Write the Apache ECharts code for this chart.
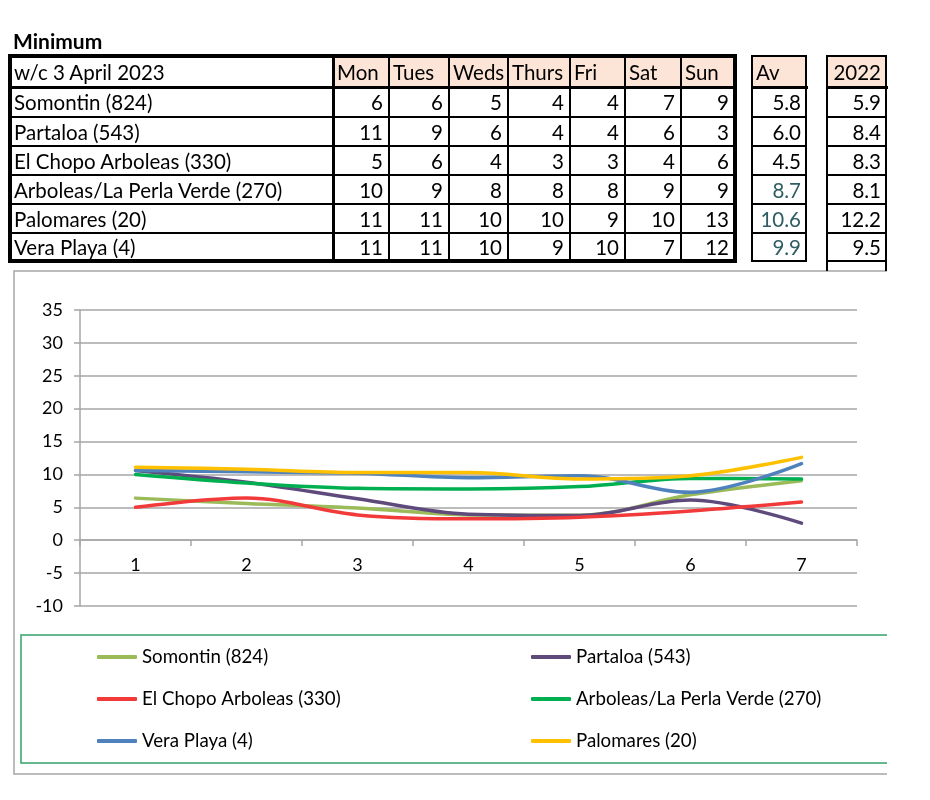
<!DOCTYPE html>
<html>
<head>
<meta charset="utf-8">
<script src="https://cdn.jsdelivr.net/npm/echarts@6/dist/echarts.min.js"></script>
<style>
  html, body { margin: 0; padding: 0; background: #fff; }
  #chart { position: absolute; left: 0; top: 0; width: 930px; height: 800px; }
  #table { position: absolute; left: 0; top: 0; width: 930px; height: 280px; z-index: 2; font-family: Lato, "Open Sans", sans-serif; }
  .ln { position: absolute; background: #000; }
  .cell { position: absolute; display: flex; align-items: center; box-sizing: border-box; white-space: nowrap; font-size: 20.5px; color: #000; }
</style>
</head>
<body>
<div id="chart"></div>
<div id="table"></div>
<script>
// ---------- DATA ----------
const tableTitle = 'Minimum';
const weekLabel = 'w/c 3 April 2023';
const dayLabels = ['Mon', 'Tues', 'Weds', 'Thurs', 'Fri', 'Sat', 'Sun'];
const tableStations = ['Somontin (824)', 'Partaloa (543)', 'El Chopo Arboleas (330)', 'Arboleas/La Perla Verde (270)', 'Palomares (20)', 'Vera Playa (4)'];
const rowSomontin = [6, 6, 5, 4, 4, 7, 9];
const rowPartaloa = [11, 9, 6, 4, 4, 6, 3];
const rowElChopo = [5, 6, 4, 3, 3, 4, 6];
const rowArboleas = [10, 9, 8, 8, 8, 9, 9];
const rowPalomares = [11, 11, 10, 10, 9, 10, 13];
const rowVeraPlaya = [11, 11, 10, 9, 10, 7, 12];
const avHeader = 'Av';
const avValues = ['5.8', '6.0', '4.5', '8.7', '10.6', '9.9'];
const avTeal = [false, false, false, true, true, true];
const prevHeader = '2022';
const prevValues = ['5.9', '8.4', '8.3', '8.1', '12.2', '9.5'];

const xCategories = ['1', '2', '3', '4', '5', '6', '7'];
const seriesNames = ['Somontin (824)', 'Partaloa (543)', 'El Chopo Arboleas (330)', 'Arboleas/La Perla Verde (270)', 'Vera Playa (4)', 'Palomares (20)'];
const lineSomontin = [6.4, 5.6, 4.9, 3.85, 3.8, 6.9, 9.05];
const linePartaloa = [10.6, 8.8, 6.3, 3.95, 3.75, 6.1, 2.6];
const lineElChopo = [5.0, 6.4, 3.85, 3.25, 3.5, 4.45, 5.8];
const lineArboleas = [10.0, 8.7, 7.9, 7.8, 8.15, 9.4, 9.3];
const lineVeraPlaya = [10.6, 10.4, 10.2, 9.5, 9.8, 7.3, 11.65];
const linePalomares = [11.1, 10.8, 10.3, 10.3, 9.3, 9.8, 12.6];
const yMin = -10, yMax = 35, yStep = 5;

// ---------- TABLE (HTML) ----------
const T = document.getElementById('table');
function line(x, y, w, h) {
  const d = document.createElement('div'); d.className = 'ln';
  d.style.left = x + 'px'; d.style.top = y + 'px'; d.style.width = w + 'px'; d.style.height = h + 'px';
  T.appendChild(d);
}
function hline(x1, x2, y, th) { line(x1 - th / 2, y - th / 2, x2 - x1 + th, th); }
function vline(x, y1, y2, th) { line(x - th / 2, y1 - th / 2, th, y2 - y1 + th); }
function cell(x1, x2, y1, y2, text, align, opts) {
  opts = opts || {};
  const d = document.createElement('div'); d.className = 'cell';
  d.style.left = x1 + 'px'; d.style.top = y1 + 'px'; d.style.width = (x2 - x1) + 'px'; d.style.height = (y2 - y1) + 'px';
  d.style.justifyContent = align === 'right' ? 'flex-end' : 'flex-start';
  d.style.paddingLeft = (opts.pl != null ? opts.pl : 4) + 'px';
  d.style.paddingRight = (opts.pr != null ? opts.pr : 5) + 'px';
  if (opts.bg) d.style.background = opts.bg;
  if (opts.color) d.style.color = opts.color;
  if (opts.bold) d.style.fontWeight = 'bold';
  if (opts.size) d.style.fontSize = opts.size + 'px';
  d.textContent = text;
  T.appendChild(d);
}
const peach = '#FCE4D6';
const colX = [10, 333, 389, 449, 508, 570, 625, 681, 735];
const rowY = [56, 87, 117, 146, 175, 204, 233, 261];
const tableRows = [rowSomontin, rowPartaloa, rowElChopo, rowArboleas, rowPalomares, rowVeraPlaya];

cell(8, 200, 26, 54, tableTitle, 'left', { bold: true, size: 21, pl: 5 });
// header
cell(colX[0], colX[1], rowY[0], rowY[1], weekLabel, 'left', { pl: 4 });
dayLabels.forEach((d, i) => cell(colX[i + 1], colX[i + 2], rowY[0], rowY[1], d, 'left', { bg: peach, pl: 4 }));
tableStations.forEach((s, r) => {
  cell(colX[0], colX[1], rowY[r + 1], rowY[r + 2], s, 'left', { pl: 4 });
  tableRows[r].forEach((v, i) => cell(colX[i + 1], colX[i + 2], rowY[r + 1], rowY[r + 2], String(v), 'right', { pr: 6 }));
});
for (let r = 1; r < rowY.length - 1; r++) hline(colX[0], colX[8], rowY[r], r === 1 ? 3 : 2);
for (let c = 2; c < colX.length - 1; c++) vline(colX[c], rowY[0], rowY[7], 2);
vline(colX[1], rowY[0], rowY[7], 3);
hline(colX[0], colX[8], rowY[0], 4);
hline(colX[0], colX[8], rowY[7], 4);
vline(colX[0], rowY[0], rowY[7], 4);
vline(colX[8], rowY[0], rowY[7], 4);

// Av box
const avX = [752, 806];
cell(avX[0], avX[1], rowY[0], rowY[1], avHeader, 'left', { bg: peach, pl: 4 });
avValues.forEach((v, r) => cell(avX[0], avX[1], rowY[r + 1], rowY[r + 2], v, 'right', { pr: 5, color: avTeal[r] ? '#2F5E62' : '#000' }));
for (let r = 0; r < rowY.length; r++) hline(avX[0], avX[1], rowY[r], r === 1 ? 3 : 2);
vline(avX[0], rowY[0], rowY[7], 2); vline(avX[1], rowY[0], rowY[7], 2);

// 2022 box
const pX = [827, 886];
cell(pX[0], pX[1], rowY[0], rowY[1], prevHeader, 'right', { bg: peach, pr: 5 });
prevValues.forEach((v, r) => cell(pX[0], pX[1], rowY[r + 1], rowY[r + 2], v, 'right', { pr: 5 }));
for (let r = 0; r < rowY.length; r++) hline(pX[0], pX[1], rowY[r], r === 1 ? 3 : 2);
vline(pX[0], rowY[0], 270, 2); vline(pX[1], rowY[0], 270, 2);

// ---------- CHART ----------
const chart = echarts.init(document.getElementById('chart'), null, { renderer: 'canvas' });
const colors = ['#9BBB59', '#5F4A7C', '#F23A3A', '#00B050', '#4F81BD', '#FFC000'];
const lineData = [lineSomontin, linePartaloa, lineElChopo, lineArboleas, lineVeraPlaya, linePalomares];
const font = 'Lato, "Open Sans", sans-serif';
const gridGray = '#A6A6A6';
const legendText = { color: '#000', fontSize: 18.7, fontFamily: font, lineHeight: 20 };

chart.setOption({
  animation: false,
  color: colors,
  textStyle: { fontFamily: font },
  grid: [
    { left: 80, right: 73, top: 310, bottom: 194, containLabel: false },
    // upper part of the same plot (down to value 0) carries the category axis, as in the reference
    { left: 80, right: 73, top: 310, bottom: 260, containLabel: false }
  ],
  xAxis: [
    {
      type: 'category', data: xCategories, boundaryGap: true, gridIndex: 0,
      axisLine: { show: false }, axisTick: { show: false }, axisLabel: { show: false }, splitLine: { show: false }
    },
    {
      type: 'category', data: xCategories, boundaryGap: true, gridIndex: 1, position: 'bottom',
      axisLine: { show: true, onZero: false, lineStyle: { color: gridGray, width: 1.5 } },
      axisTick: { show: true, inside: false, length: 6, lineStyle: { color: gridGray, width: 1.5 } },
      axisLabel: { color: '#000', fontSize: 18, fontFamily: font, margin: 16 },
      splitLine: { show: false }
    }
  ],
  yAxis: [
    {
      type: 'value', min: yMin, max: yMax, interval: yStep, gridIndex: 0,
      axisLine: { show: true, lineStyle: { color: gridGray, width: 1.5 } },
      axisTick: { show: true, length: 6, lineStyle: { color: gridGray, width: 1.5 } },
      axisLabel: { color: '#000', fontSize: 18, fontFamily: font, margin: 17 },
      splitLine: { show: true, lineStyle: { color: gridGray, width: 1.5 } }
    },
    {
      type: 'value', min: 0, max: yMax, interval: yStep, gridIndex: 1, show: false
    }
  ],
  legend: [
    {
      data: [seriesNames[0], seriesNames[2], seriesNames[4]],
      orient: 'vertical', left: 97, top: 647, itemGap: 22, padding: 0,
      icon: 'roundRect', itemWidth: 40, itemHeight: 4, textStyle: legendText
    },
    {
      data: [seriesNames[1], seriesNames[3], seriesNames[5]],
      orient: 'vertical', left: 531, top: 647, itemGap: 22, padding: 0,
      icon: 'roundRect', itemWidth: 40, itemHeight: 4, textStyle: legendText
    }
  ],
  graphic: [
    { type: 'polyline', shape: { points: [[887, 271], [14, 271], [14, 774], [887, 774]] }, style: { stroke: '#A6A6A6', lineWidth: 1.5, fill: null }, silent: true },
    { type: 'polyline', shape: { points: [[887, 635], [21, 635], [21, 763], [887, 763]] }, style: { stroke: '#33A36A', lineWidth: 1.5, fill: null }, silent: true }
  ],
  series: seriesNames.map((n, i) => ({
    name: n, type: 'line', data: lineData[i], smooth: 0.35, xAxisIndex: 0, yAxisIndex: 0,
    showSymbol: false, symbol: 'none',
    lineStyle: { width: 3.5, color: colors[i], cap: 'round', join: 'round' },
    itemStyle: { color: colors[i] }
  }))
});
</script>
</body>
</html>
